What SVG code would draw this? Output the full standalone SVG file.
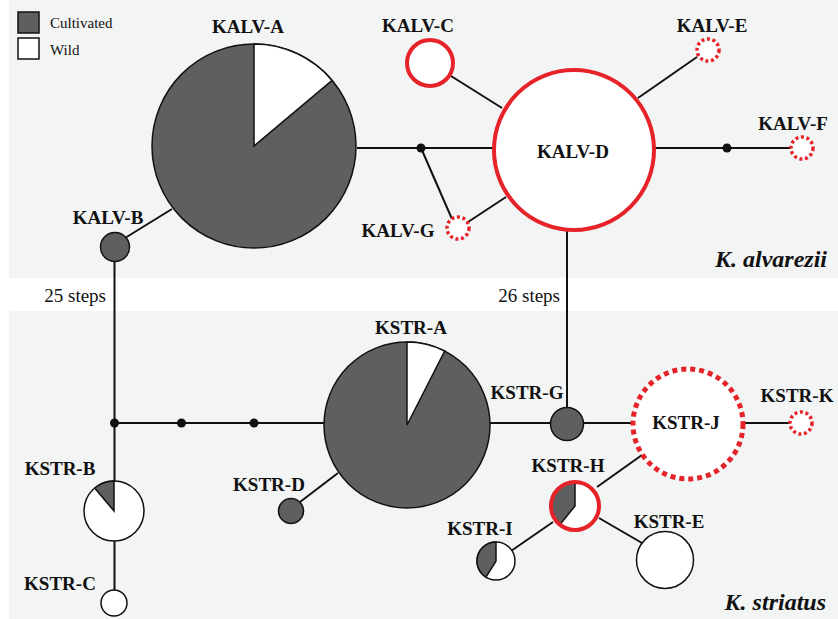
<svg xmlns="http://www.w3.org/2000/svg" width="838" height="619" viewBox="0 0 838 619" font-family="Liberation Serif, serif">
<style>
.lbl{font-family:Liberation Serif, serif;font-weight:bold;font-size:19px;fill:#111;text-anchor:middle}
.steps{font-family:Liberation Serif, serif;font-size:19px;fill:#111;text-anchor:end}
.leg{font-family:Liberation Serif, serif;font-size:15px;fill:#111}
.sp{font-family:Liberation Serif, serif;font-weight:bold;font-style:italic;font-size:24px;fill:#111;text-anchor:end}
.edge{stroke:#111;stroke-width:2;fill:none}
.dot{fill:#111}
.grey{fill:#5f5f5f;stroke:#111;stroke-width:1.5}
.white{fill:#fff;stroke:#111;stroke-width:1.5}
.wedge{stroke:#111;stroke-width:1.5}
.red{fill:#fff;stroke:#e52329;stroke-width:4}
.redd{fill:#fff;stroke:#e52329;stroke-width:3.5;stroke-dasharray:3 2.6}
.reddL{fill:#fff;stroke:#e52329;stroke-width:5;stroke-dasharray:5 4}
</style>
<rect x="0" y="0" width="838" height="619" fill="#fff"/>
<rect x="9" y="0" width="829" height="278" fill="#f3f4f4"/>
<rect x="9" y="311" width="829" height="308" fill="#f3f4f4"/>

<g id="legend">
<rect x="18" y="12" width="21" height="21" fill="#5f5f5f" stroke="#111" stroke-width="1.5"/>
<rect x="18" y="38" width="21" height="21" fill="#fff" stroke="#111" stroke-width="1.5"/>
<text class="leg" x="50" y="28" font-family="Liberation Serif, serif">Cultivated</text>
<text class="leg" x="50" y="55" font-family="Liberation Serif, serif">Wild</text>
</g>

<g id="connectors">
<line class="edge" x1="125" y1="238" x2="172" y2="209"/>
<line class="edge" x1="357" y1="148" x2="494" y2="148"/>
<line class="edge" x1="421" y1="148" x2="452" y2="219"/>
<line class="edge" x1="468" y1="222" x2="506" y2="197"/>
<line class="edge" x1="451" y1="76" x2="502" y2="108"/>
<line class="edge" x1="697" y1="57" x2="638" y2="98"/>
<line class="edge" x1="654" y1="148" x2="791" y2="148"/>
<line class="edge" x1="567" y1="231" x2="567" y2="408"/>
<line class="edge" x1="114.5" y1="262" x2="114.5" y2="481"/>
<line class="edge" x1="114.5" y1="423" x2="324" y2="423"/>
<line class="edge" x1="490" y1="423" x2="550" y2="423"/>
<line class="edge" x1="583" y1="423" x2="633" y2="423"/>
<line class="edge" x1="743" y1="423" x2="790" y2="423"/>
<line class="edge" x1="338" y1="473" x2="300" y2="502"/>
<line class="edge" x1="642" y1="455" x2="597" y2="487"/>
<line class="edge" x1="553" y1="522" x2="511" y2="551"/>
<line class="edge" x1="599" y1="518" x2="642" y2="543"/>
<line class="edge" x1="114.5" y1="541" x2="114.5" y2="590"/>
<circle class="dot" cx="421" cy="148" r="4.5"/>
<circle class="dot" cx="727" cy="148" r="4.5"/>
<circle class="dot" cx="114.5" cy="423" r="4.5"/>
<circle class="dot" cx="181.5" cy="423" r="4.5"/>
<circle class="dot" cx="254" cy="423" r="4.5"/>
<text class="steps" x="106" y="302" font-family="Liberation Serif, serif">25 steps</text>
<text class="steps" x="560" y="302" font-family="Liberation Serif, serif">26 steps</text>
</g>

<g id="KALV-A">
<circle class="grey" cx="254" cy="146" r="102"/>
<path class="wedge" fill="#fff" d="M254,146 L254,44 A102,102 0 0 1 332.1,80.4 Z"/>
<text class="lbl" x="248" y="33">KALV-A</text>
</g>
<g id="KALV-B">
<circle class="grey" cx="115" cy="247" r="14.5"/>
<text class="lbl" x="108" y="224">KALV-B</text>
</g>
<g id="KALV-C">
<circle class="red" cx="430" cy="63" r="23"/>
<text class="lbl" x="418" y="32">KALV-C</text>
</g>
<g id="KALV-D">
<circle class="red" cx="574" cy="150" r="80"/>
<text class="lbl" x="573" y="158">KALV-D</text>
</g>
<g id="KALV-E">
<circle class="redd" cx="708" cy="50" r="11"/>
<text class="lbl" x="712" y="32">KALV-E</text>
</g>
<g id="KALV-F">
<circle class="redd" cx="802" cy="148" r="11"/>
<text class="lbl" x="793" y="130">KALV-F</text>
</g>
<g id="KALV-G">
<circle class="redd" cx="458" cy="228" r="11"/>
<text class="lbl" x="398" y="237">KALV-G</text>
</g>
<text class="sp" x="827" y="267">K. alvarezii</text>

<g id="KSTR-A">
<circle class="grey" cx="407" cy="425" r="83"/>
<path class="wedge" fill="#fff" d="M407,425 L407,342 A83,83 0 0 1 444.7,351 Z"/>
<text class="lbl" x="411" y="334">KSTR-A</text>
</g>
<g id="KSTR-B">
<circle class="white" cx="114" cy="511" r="30"/>
<path class="wedge" fill="#5f5f5f" d="M114,511 L94.7,488 A30,30 0 0 1 114,481 Z"/>
<text class="lbl" x="60" y="475">KSTR-B</text>
</g>
<g id="KSTR-C">
<circle class="white" cx="114" cy="603" r="13"/>
<text class="lbl" x="60" y="590">KSTR-C</text>
</g>
<g id="KSTR-D">
<circle class="grey" cx="291" cy="511" r="12.5"/>
<text class="lbl" x="269" y="491">KSTR-D</text>
</g>
<g id="KSTR-E">
<circle class="white" cx="665" cy="560" r="28.5"/>
<text class="lbl" x="669" y="528">KSTR-E</text>
</g>
<g id="KSTR-G">
<circle class="grey" cx="567" cy="424" r="16.5"/>
<text class="lbl" x="527" y="399">KSTR-G</text>
</g>
<g id="KSTR-H">
<circle cx="575" cy="506" r="24" fill="#fff"/>
<path class="wedge" fill="#5f5f5f" d="M575,506 L559.9,524.6 A24,24 0 0 1 575,482 Z"/>
<circle cx="575" cy="506" r="24" fill="none" stroke="#e52329" stroke-width="4"/>
<text class="lbl" x="568" y="472">KSTR-H</text>
</g>
<g id="KSTR-I">
<circle class="white" cx="496" cy="561" r="19"/>
<path class="wedge" fill="#5f5f5f" d="M496,561 L485.9,577.1 A19,19 0 0 1 496,542 Z"/>
<text class="lbl" x="480" y="535">KSTR-I</text>
</g>
<g id="KSTR-J">
<circle class="reddL" cx="688" cy="424" r="55"/>
<text class="lbl" x="686" y="429">KSTR-J</text>
</g>
<g id="KSTR-K">
<circle class="redd" cx="801" cy="423" r="11"/>
<text class="lbl" x="797" y="402">KSTR-K</text>
</g>
<text class="sp" x="826" y="610">K. striatus</text>
</svg>
